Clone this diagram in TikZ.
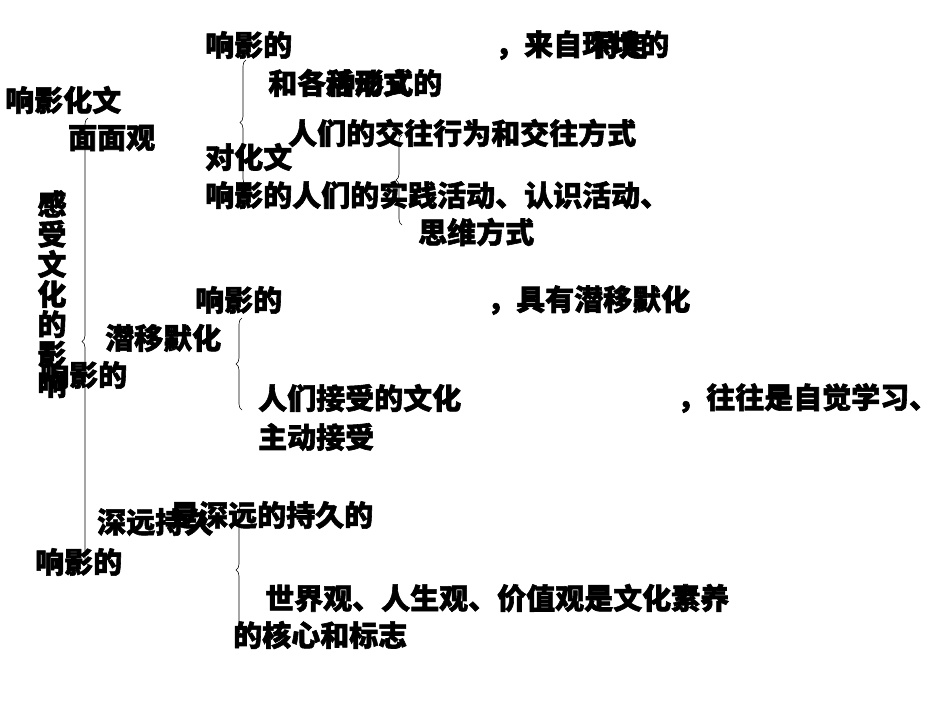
\documentclass[tikz,border=0pt]{standalone}
\usepackage{fontspec}
\setmainfont{Noto Sans CJK SC}[FakeBold=2]
\usetikzlibrary{decorations.pathreplacing}
\begin{document}
\begin{tikzpicture}[x=1pt,y=-1pt,
  t/.style={anchor=west,inner sep=0pt,font=\fontsize{29}{30}\selectfont\bfseries},
  br/.style={decorate,decoration={brace,amplitude=6pt,mirror},thin,line width=0.6pt}]
\useasboundingbox (0,0) rectangle (950,713);
\node[t] (a1) at (5,100) {响影化文};
\node[t] (a2) at (68,138) {面面观};
\node[t,align=center,anchor=north] (v) at (52,190) {感\\受\\文\\化\\的\\影\\响};
\node[t] (v2) at (40,375) {响影的};
\node[t] (b1) at (105,338) {潜移默化};
\node[t] (c1) at (97,522) {深远持久};
\node[t] (c2) at (35,562) {响影的};
\node[t] (d1) at (205,45) {响影的};
\node[t] (d2) at (495,45) {，来自环境的};
\node[t] (d2b) at (590,45) {特定};
\node[t] (d3) at (268,83) {和各种形式的};
\node[t] (d3b) at (325,83) {活动文};
\node[t] (d4) at (288,133) {人们的交往行为和交往方式};
\node[t] (d5) at (205,157) {对化文};
\node[t] (d6) at (205,195) {响影的人们的实践活动、认识活动、};
\node[t] (d7) at (418,232) {思维方式};
\node[t] (e1) at (195,300) {响影的};
\node[t] (e2) at (487,300) {，具有潜移默化};
\node[t] (e3) at (258,398) {人们接受的文化};
\node[t] (e4) at (677,398) {，往往是自觉学习、};
\node[t] (e5) at (258,437) {主动接受};
\node[t] (f1) at (170,515) {是深远的持久的};
\node[t] (f2) at (265,598) {世界观、人生观、价值观是文化素养};
\node[t] (f3) at (233,635) {的核心和标志};
\draw[br] (88,118) -- (88,565);
\draw[br] (246,60) -- (246,185);
\draw[br] (402,135) -- (402,225);
\draw[br] (242,318) -- (242,410);
\draw[br] (242,505) -- (242,635);
\end{tikzpicture}
\end{document}
